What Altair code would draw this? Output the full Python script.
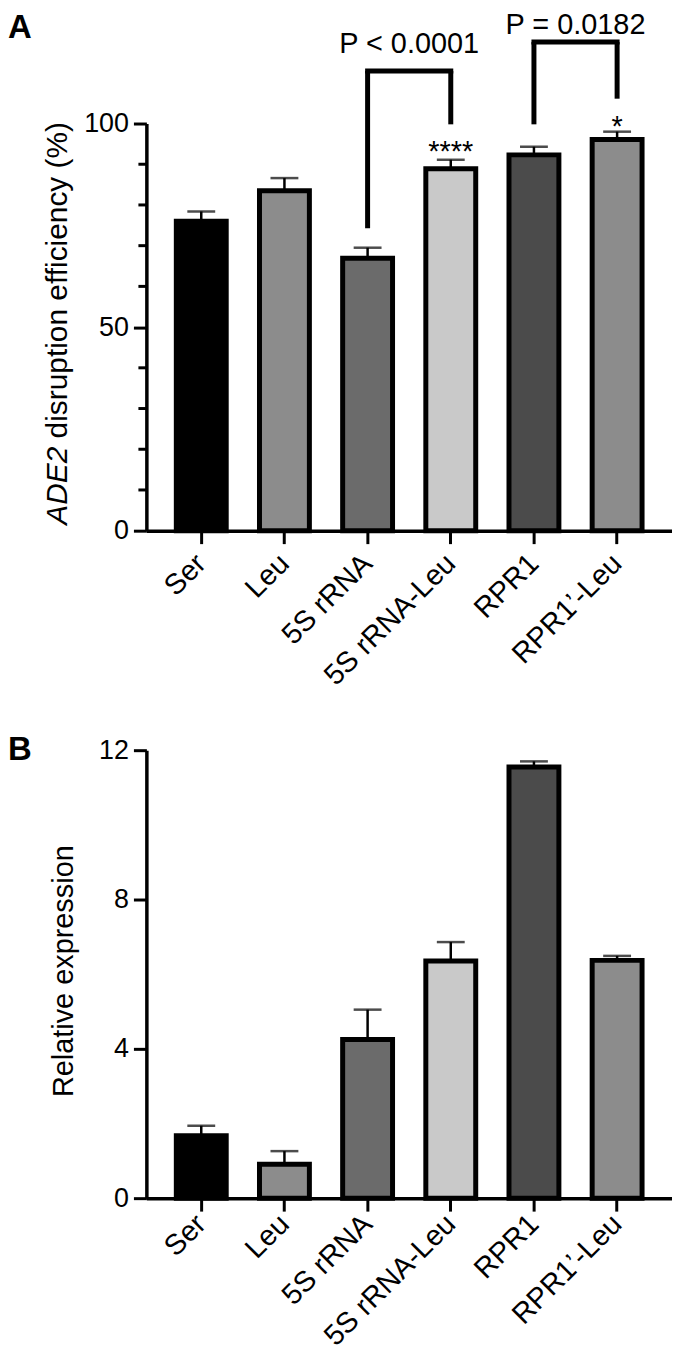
import altair as alt
import pandas as pd

# ---------------- data ----------------
categories = ["Ser", "Leu", "5S rRNA", "5S rRNA-Leu", "RPR1", "RPR1’-Leu"]
bar_colors = ["#000000", "#8c8c8c", "#6b6b6b", "#c9c9c9", "#4b4b4b", "#8c8c8c"]

efficiency = [76.0, 83.5, 66.9, 88.9, 92.3, 96.1]
efficiency_err = [2.4, 3.1, 2.6, 2.2, 2.0, 1.9]

expression = [1.67, 0.91, 4.25, 6.35, 11.55, 6.37]
expression_err = [0.27, 0.35, 0.80, 0.51, 0.15, 0.12]

ticks_a = [0, 50, 100]
minor_ticks_a = [10, 20, 30, 40, 60, 70, 80, 90]
ticks_b = [0, 4, 8, 12]

bracket_left = ["5S rRNA", "RPR1"]
bracket_right = ["5S rRNA-Leu", "RPR1’-Leu"]
bracket_top = [112.9, 120.0]
bracket_left_end = [74.3, 99.8]
bracket_right_end = [99.8, 106.1]
p_labels = ["P < 0.0001", "P = 0.0182"]
p_label_y = [117.4, 122.0]
star_labels = ["****", "*"]
star_categories = ["5S rRNA-Leu", "RPR1’-Leu"]
star_y = [90.9, 96.9]

# ---------------- styling ----------------
FONT = "Liberation Sans, Arial, Helvetica, sans-serif"
W = 528
H_A = 409
H_B = 450
HALF_STEP = W / (6 - 0.4 + 0.72) / 2


def x_axis(pad):
    return alt.Axis(title=None, labelAngle=-45, labelAlign="right", labelBaseline="middle",
                    labelFontSize=29, labelFont=FONT, labelColor="black", labelPadding=pad,
                    labelOverlap=False, labelLimit=400, tickSize=13, tickWidth=3,
                    tickColor="black", domainWidth=3.5, domainColor="black")


def y_axis(values):
    return alt.Axis(values=values, title=None, labelFontSize=27, labelFont=FONT,
                    labelColor="black", labelPadding=5, tickSize=13, tickWidth=3,
                    tickColor="black", domainWidth=3.5, domainColor="black", grid=False)


def make_x(field, pad):
    return alt.X(f"{field}:N", scale=alt.Scale(domain=categories, paddingInner=0.4, paddingOuter=0.36),
                 axis=x_axis(pad), sort=categories)


color = alt.Color("category:N", scale=alt.Scale(domain=categories, range=bar_colors), legend=None)


def panel(values, errs, domain, ticks, pad):
    df = pd.DataFrame({"category": categories, "value": values, "err": errs})
    df["upper"] = df["value"] + df["err"]
    yscale = alt.Scale(domain=domain, nice=False, zero=True)
    yax = y_axis(ticks)

    def Y(f):
        return alt.Y(f"{f}:Q", scale=yscale, axis=yax)

    base = alt.Chart(df)
    err_line = base.mark_rule(color="black", strokeWidth=2.5).encode(
        x=make_x("category", pad), y=Y("value"), y2="upper:Q")
    err_cap = base.mark_tick(color="black", thickness=2.5, size=28).encode(
        x=make_x("category", pad), y=Y("upper"))
    bars = base.mark_bar(stroke="black", strokeWidth=5).encode(
        x=make_x("category", pad), y=Y("value"), color=color)
    return [err_line, err_cap, bars], Y


# ---------------- panel A ----------------
PAD_A = 15
layers_a, YA = panel(efficiency, efficiency_err, [0, 100], ticks_a, PAD_A)

minor = alt.Chart(pd.DataFrame({"v": minor_ticks_a})).mark_rule(color="black", strokeWidth=3).encode(
    x=alt.value(-8), x2=alt.value(0), y=YA("v"))

br_df = pd.DataFrame({"left": bracket_left, "right": bracket_right, "top": bracket_top,
                      "label": p_labels, "ly": p_label_y})
br_top = alt.Chart(br_df).mark_rule(color="black", strokeWidth=5, strokeCap="square").encode(
    x=make_x("left", PAD_A), x2="right:N", y=YA("top"))
leg_df = pd.DataFrame({"category": bracket_left + bracket_right,
                       "end": bracket_left_end + bracket_right_end,
                       "top": bracket_top + bracket_top})
br_legs = alt.Chart(leg_df).mark_rule(color="black", strokeWidth=5).encode(
    x=make_x("category", PAD_A), y=YA("end"), y2="top:Q")
p_text = alt.Chart(br_df).mark_text(font=FONT, fontSize=29, color="black", align="center",
                                    baseline="alphabetic", dx=HALF_STEP).encode(
    x=make_x("left", PAD_A), y=YA("ly"), text="label:N")
star_df = pd.DataFrame({"category": star_categories, "sy": star_y, "label": star_labels})
stars = alt.Chart(star_df).mark_text(font=FONT, fontSize=29, color="black", align="center",
                                     baseline="alphabetic").encode(
    x=make_x("category", PAD_A), y=YA("sy"), text="label:N")

one = pd.DataFrame({"k": [0]})
label_a = alt.Chart(one).mark_text(text="A", font=FONT, fontSize=33, fontWeight="bold",
                                   align="left", baseline="alphabetic", color="black").encode(
    x=alt.value(-139), y=alt.value(-86))
TITLE_A = 30
title_a1 = alt.Chart(one).mark_text(text="ADE2", font=FONT, fontSize=TITLE_A, fontStyle="italic",
                                    angle=270, align="left", baseline="middle", color="black").encode(
    x=alt.value(-89), y=alt.value(403))
title_a2 = alt.Chart(one).mark_text(text="disruption efficiency (%)", font=FONT, fontSize=TITLE_A,
                                    angle=270, align="left", baseline="middle", color="black").encode(
    x=alt.value(-89), y=alt.value(403 - 2.89 * TITLE_A))

chart_a = alt.layer(*layers_a, minor, br_legs, br_top, p_text, stars, label_a, title_a1, title_a2
                    ).properties(width=W, height=H_A)

# ---------------- panel B ----------------
layers_b, YB = panel(expression, expression_err, [0, 12], ticks_b, 8)
label_b = alt.Chart(one).mark_text(text="B", font=FONT, fontSize=33, fontWeight="bold",
                                   align="left", baseline="alphabetic", color="black").encode(
    x=alt.value(-139), y=alt.value(10))
title_b = alt.Chart(one).mark_text(text="Relative expression", font=FONT, fontSize=29,
                                   angle=270, align="center", baseline="middle", color="black").encode(
    x=alt.value(-83), y=alt.value(222))
chart_b = alt.layer(*layers_b, label_b, title_b).properties(width=W, height=H_B)

chart = alt.vconcat(chart_a, chart_b, spacing=43.5).properties(
    padding={"left": 0, "top": 0, "right": 0, "bottom": 0}
).configure(font=FONT).configure_view(stroke=None, strokeWidth=0)

chart.save("out.html", embed_options={"renderer": "svg", "actions": False})
